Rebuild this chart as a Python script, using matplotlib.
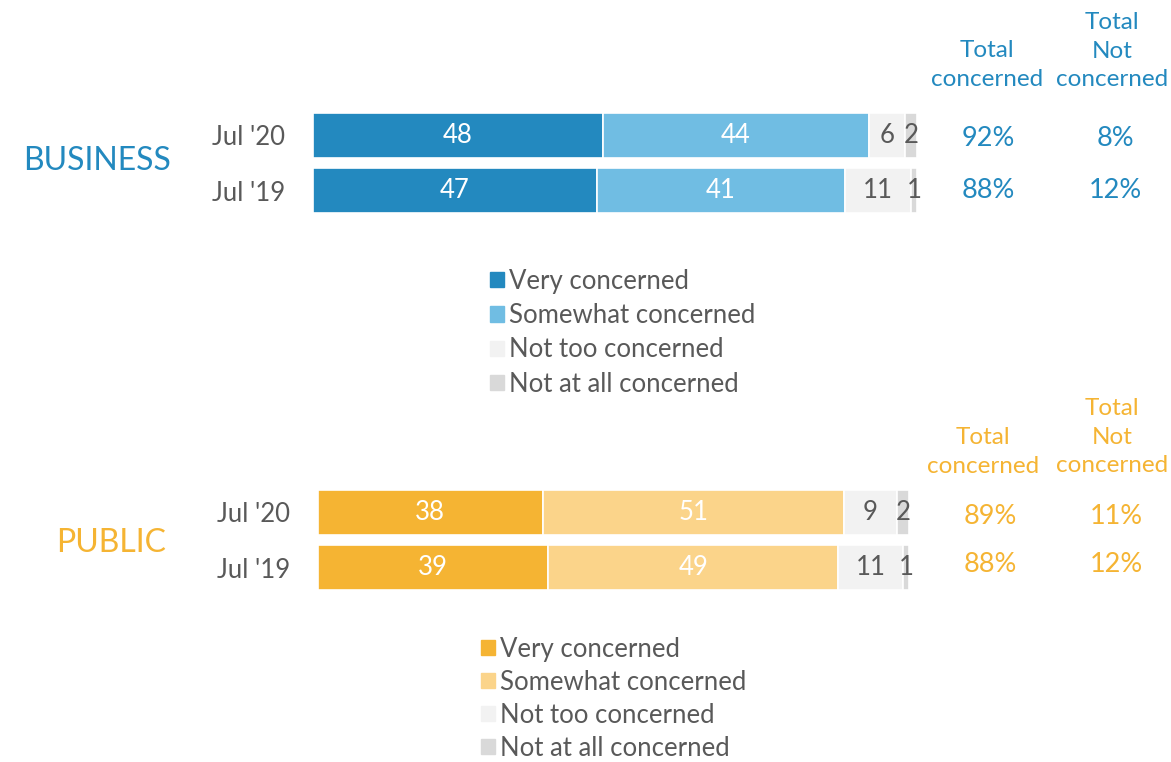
import matplotlib.pyplot as plt
from matplotlib.patches import Patch

plt.rcParams['font.family'] = ['Lato', 'DejaVu Sans']

periods = ["Jul '19", "Jul '20"]
labels = ['Very concerned', 'Somewhat concerned', 'Not too concerned', 'Not at all concerned']

bus_very = [47, 48]
bus_some = [41, 44]
bus_nottoo = [11, 6]
bus_notall = [1, 2]
bus_total = ['88%', '92%']
bus_total_not = ['12%', '8%']

pub_very = [39, 38]
pub_some = [49, 51]
pub_nottoo = [11, 9]
pub_notall = [1, 2]
pub_total = ['88%', '89%']
pub_total_not = ['12%', '11%']

blue_dark = '#2389BF'
blue_light = '#70BDE3'
gold_dark = '#F5B433'
gold_light = '#FBD48A'
grey_light = '#F2F2F2'
grey_mid = '#D9D9D9'
txt_grey = '#595959'

W, H = 1171, 762
fig = plt.figure(figsize=(W / 100, H / 100), dpi=100)


def fx(px):
    return px / W


def fy(py):
    return 1 - py / H


def stacked(ax, series, colors, txtcols):
    left = [0, 0]
    for vals, c, tc in zip(series, colors, txtcols):
        bars = ax.barh([0, 1], vals, left=left, height=0.818, color=c, edgecolor='white', linewidth=1.2)
        for b, v in zip(bars, vals):
            ax.text(b.get_x() + b.get_width() / 2, b.get_y() + b.get_height() / 2, str(v),
                    ha='center', va='center', color=tc, fontsize=18.5)
        left = [l + v for l, v in zip(left, vals)]
    ax.set_xlim(0, 100)
    ax.set_ylim(-0.409, 1.409)
    ax.set_yticks([0, 1])
    ax.set_yticklabels(periods, fontsize=18.5, color=txt_grey)
    ax.tick_params(axis='y', length=0, pad=20)
    ax.set_xticks([])
    for s in ax.spines.values():
        s.set_visible(False)


# business
ax1 = fig.add_axes([fx(313), fy(213), fx(604), 100 / H])
stacked(ax1, [bus_very, bus_some, bus_nottoo, bus_notall],
        [blue_dark, blue_light, grey_light, grey_mid],
        ['white', 'white', txt_grey, txt_grey])
fig.text(fx(97), fy(161), 'BUSINESS', color=blue_dark, fontsize=23, ha='center', va='center')
fig.text(fx(987), fy(65), 'Total\nconcerned', color=blue_dark, fontsize=17.5, ha='center', va='center', linespacing=1.45)
fig.text(fx(1112), fy(51), 'Total\nNot\nconcerned', color=blue_dark, fontsize=17.5, ha='center', va='center', linespacing=1.45)
for i, yy in enumerate([191, 138]):
    fig.text(fx(988), fy(yy), bus_total[i], color=blue_dark, fontsize=19.5, ha='center', va='center')
    fig.text(fx(1115), fy(yy), bus_total_not[i], color=blue_dark, fontsize=19.5, ha='center', va='center')

h1 = [Patch(color=c) for c in [blue_dark, blue_light, grey_light, grey_mid]]
fig.legend(h1, labels, loc='upper left', bbox_to_anchor=(fx(477), fy(256)), frameon=False,
           fontsize=18.5, handlelength=0.55, handleheight=0.55, handletextpad=0.2,
           labelspacing=0.36, labelcolor=txt_grey, borderpad=0)

# public
ax2 = fig.add_axes([fx(318), fy(590), fx(591), 100 / H])
stacked(ax2, [pub_very, pub_some, pub_nottoo, pub_notall],
        [gold_dark, gold_light, grey_light, grey_mid],
        ['white', 'white', txt_grey, txt_grey])
fig.text(fx(111), fy(543), 'PUBLIC', color=gold_dark, fontsize=23, ha='center', va='center')
fig.text(fx(983), fy(452), 'Total\nconcerned', color=gold_dark, fontsize=17.5, ha='center', va='center', linespacing=1.45)
fig.text(fx(1112), fy(437), 'Total\nNot\nconcerned', color=gold_dark, fontsize=17.5, ha='center', va='center', linespacing=1.45)
for i, yy in enumerate([564, 516]):
    fig.text(fx(990), fy(yy), pub_total[i], color=gold_dark, fontsize=19.5, ha='center', va='center')
    fig.text(fx(1116), fy(yy), pub_total_not[i], color=gold_dark, fontsize=19.5, ha='center', va='center')

h2 = [Patch(color=c) for c in [gold_dark, gold_light, grey_light, grey_mid]]
fig.legend(h2, labels, loc='upper left', bbox_to_anchor=(fx(468), fy(624)), frameon=False,
           fontsize=18.5, handlelength=0.55, handleheight=0.55, handletextpad=0.2,
           labelspacing=0.31, labelcolor=txt_grey, borderpad=0)

fig.savefig('out.png', dpi=100)
